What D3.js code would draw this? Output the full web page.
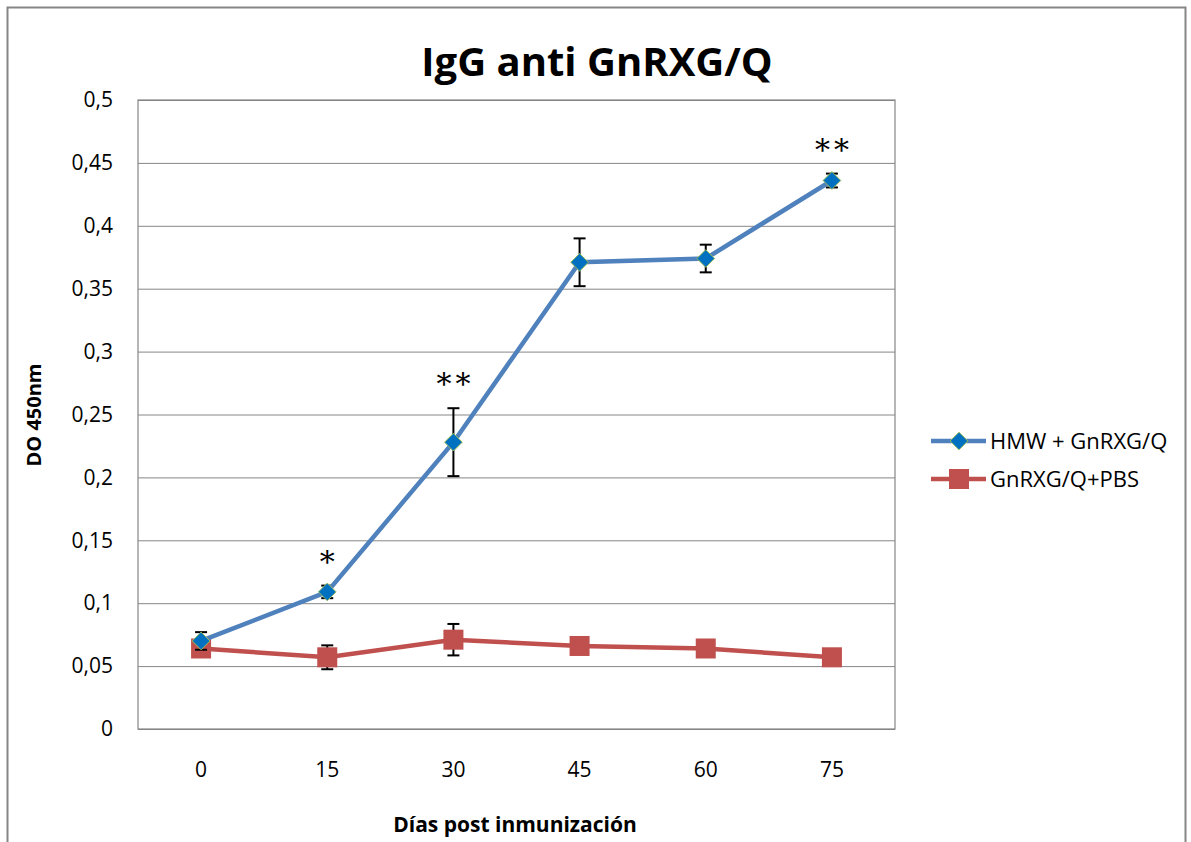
<!DOCTYPE html>
<html>
<head>
  <meta charset="utf-8">
  <script src="https://cdn.jsdelivr.net/npm/d3@7"></script>
  <style>
    body { margin: 0; background: #ffffff; }
    text { font-family: "Open Sans", "Noto Sans", sans-serif; fill: #000; }
  </style>
</head>
<body>
  <svg width="1191" height="842" id="mainsvg"></svg>
  <script>
    const days = ["0", "15", "30", "45", "60", "75"];
    const yTicks = [0, 0.05, 0.1, 0.15, 0.2, 0.25, 0.3, 0.35, 0.4, 0.45, 0.5];
    const hmwValues = [0.070, 0.109, 0.228, 0.371, 0.374, 0.436];
    const hmwErrors = [0.007, 0.005, 0.027, 0.019, 0.011, 0.0055];
    const pbsValues = [0.064, 0.057, 0.071, 0.066, 0.064, 0.057];
    const pbsErrors = [0.004, 0.0095, 0.0125, 0.003, 0.003, 0.003];
    const stars = ["", "*", "**", "", "", "**"];
    const seriesNames = ["HMW + GnRXG/Q", "GnRXG/Q+PBS"];

    const svg = d3.select('#mainsvg');
    const margin = { top: 100, left: 138, right: 296, bottom: 113 };
    const width = +svg.attr('width');
    const height = +svg.attr('height');
    const innerWidth = width - margin.left - margin.right;
    const innerHeight = height - margin.top - margin.bottom;

    // outer chart frame (bottom edge runs past the picture)
    svg.append('path')
      .attr('d', `M7.5,${height} V7.5 H1185.5 V${height}`)
      .attr('fill', 'none').attr('stroke', '#868686').attr('stroke-width', 2);

    const xScale = d3.scaleBand().domain(days).range([0, innerWidth]);
    const yScale = d3.scaleLinear().domain([0, 0.5]).range([innerHeight, 0]);
    const xc = d => xScale(d) + xScale.bandwidth() / 2;

    const g = svg.append('g').attr('transform', `translate(${margin.left}, ${margin.top})`);

    // gridlines
    const yGrid = d3.axisLeft(yScale).tickValues(yTicks).tickSize(-innerWidth).tickFormat('');
    g.append('g').call(yGrid)
      .call(s => s.select('.domain').remove())
      .selectAll('line').attr('stroke', '#868686').attr('stroke-width', 1);

    g.append('rect')
      .attr('x', 0).attr('y', 0).attr('width', innerWidth).attr('height', innerHeight)
      .attr('fill', 'none').attr('stroke', '#868686').attr('stroke-width', 1.2);

    // y tick labels
    const yAxis = d3.axisLeft(yScale).tickValues(yTicks).tickSize(0).tickPadding(25)
      .tickFormat(d => d3.format('')(+d.toFixed(2)).replace('.', ','));
    g.append('g').call(yAxis)
      .call(s => s.select('.domain').remove())
      .selectAll('text').style('font-size', '21px').attr('fill', '#000');

    const xAxis = d3.axisBottom(xScale).tickSize(0).tickPadding(33);
    g.append('g').attr('transform', `translate(0, ${innerHeight})`).call(xAxis)
      .call(s => s.select('.domain').remove())
      .selectAll('text').style('font-size', '21px').attr('fill', '#000');

    const line = d3.line().x((d, i) => xc(days[i])).y(d => yScale(d));

    function errorBars(values, errors) {
      const eg = g.append('g');
      values.forEach((v, i) => {
        const x = xc(days[i]);
        const y1 = yScale(v + errors[i]);
        const y2 = yScale(v - errors[i]);
        eg.append('line').attr('x1', x).attr('x2', x).attr('y1', y1).attr('y2', y2)
          .attr('stroke', '#000').attr('stroke-width', 2);
        [y1, y2].forEach(y => eg.append('line')
          .attr('x1', x - 6).attr('x2', x + 6).attr('y1', y).attr('y2', y)
          .attr('stroke', '#000').attr('stroke-width', 2));
      });
    }

    // red series
    errorBars(pbsValues, pbsErrors);
    g.append('path').datum(pbsValues).attr('d', line)
      .attr('fill', 'none').attr('stroke', '#C0504D').attr('stroke-width', 4.5);
    g.selectAll('.sq').data(pbsValues).enter().append('rect')
      .attr('x', (d, i) => xc(days[i]) - 10).attr('y', d => yScale(d) - 10)
      .attr('width', 20).attr('height', 20).attr('fill', '#C0504D');

    // blue series
    errorBars(hmwValues, hmwErrors);
    g.append('path').datum(hmwValues).attr('d', line)
      .attr('fill', 'none').attr('stroke', '#4F81BD').attr('stroke-width', 4.5);
    const diamond = d3.symbol().type(d3.symbolDiamond2).size(200);
    g.selectAll('.dm').data(hmwValues).enter().append('path')
      .attr('d', diamond)
      .attr('transform', (d, i) => `translate(${xc(days[i])}, ${yScale(d)})`)
      .attr('fill', '#0070C0').attr('stroke', '#9BBB59').attr('stroke-width', 1);

    // significance stars
    g.selectAll('.star').data(stars).enter().append('text')
      .attr('x', (d, i) => xc(days[i]) + 2)
      .attr('y', (d, i) => yScale(hmwValues[i] + hmwErrors[i]) - 14)
      .attr('text-anchor', 'middle')
      .style('font-family', '"DejaVu Serif", serif')
      .style('font-size', '30px')
      .style('letter-spacing', '4px')
      .text(d => d);

    // title and axis titles
    svg.append('text').attr('x', 597).attr('y', 76).attr('text-anchor', 'middle')
      .style('font-size', '40px').style('font-weight', 'bold').text('IgG anti GnRXG/Q');
    svg.append('text').attr('transform', 'translate(41, 415) rotate(-90)').attr('text-anchor', 'middle')
      .style('font-size', '20px').style('font-weight', 'bold').text('DO 450nm');
    svg.append('text').attr('x', 515).attr('y', 832).attr('text-anchor', 'middle')
      .style('font-size', '21px').style('font-weight', 'bold').text('Días post inmunización');

    // legend
    const legend = svg.append('g').attr('transform', 'translate(931, 441)');
    seriesNames.forEach((name, i) => {
      const lg = legend.append('g').attr('transform', `translate(0, ${i * 38})`);
      const color = i === 0 ? '#4F81BD' : '#C0504D';
      lg.append('line').attr('x1', 0).attr('x2', 55).attr('stroke', color).attr('stroke-width', 4.5);
      if (i === 0) {
        lg.append('path').attr('d', diamond).attr('transform', 'translate(28, 0)')
          .attr('fill', '#0070C0').attr('stroke', '#9BBB59');
      } else {
        lg.append('rect').attr('x', 18).attr('y', -10).attr('width', 20).attr('height', 20).attr('fill', color);
      }
      lg.append('text').attr('x', 59).attr('y', 8).style('font-size', '22px').text(name);
    });
  </script>
</body>
</html>
